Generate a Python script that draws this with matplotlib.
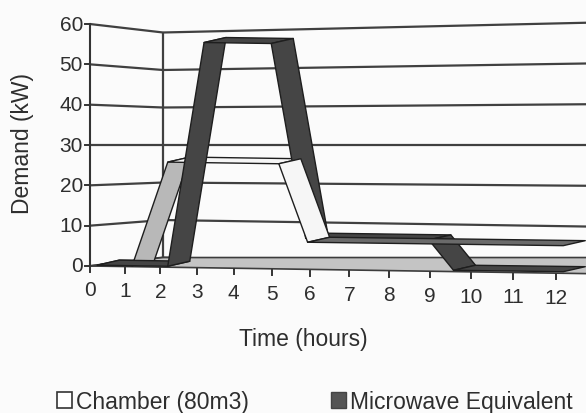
import numpy as np
import matplotlib
matplotlib.use("Agg")
import matplotlib.pyplot as plt
from matplotlib.patches import Polygon, Patch

plt.rcParams['font.family'] = ['Liberation Sans', 'DejaVu Sans']

# data
hours = list(range(13))
kw_ticks = [0, 10, 20, 30, 40, 50, 60]
chamber_t = [0, 1, 2, 5, 5.75, 12]
chamber_kw = [0, 0, 26, 26, 6.5, 6.5]
micro_t = [0, 2, 3, 4.8, 5.7, 8.8, 9.4, 12]
micro_kw = [0, 0, 56, 56, 7.5, 7.5, 0, 0]
series_names = ['Chamber (80m3)', 'Microwave Equivalent']

# layout of the fake 3d box (front plane in hours / kW)
W, H = 586, 414
PXH, PXK = 38.83, 4.033      # px per hour, px per kW on the front plane
OX, OY = 90, 267             # origin of front plane in px
WARP = 0.00928               # perspective stretch of the hour axis
DEPTH = 73 / PXH             # front -> back shift
SHRINK = 0.07                # back wall is a bit smaller
FAN = 0.0075                 # back wall grows to the right
TILT = 0.15                  # front edge drops to the right
RIB_D = 0.1                  # depth of the ribbons
RIB_X, RIB_Y = 22 / PXH, 5 / PXK
TXT = '#2e2e2e'


def proj(h, v, d, fan=False):
    h = np.asarray(h, float)
    v = np.asarray(v, float)
    d = np.asarray(d, float)
    x = h + WARP * h * (h - 12) + d * DEPTH
    sc = 1 - SHRINK * d + (FAN * h * d if fan else 0)
    y = 30 + (v - 30) * sc - TILT * h * (1 - d)
    return x, y


fig = plt.figure(figsize=(W / 100, H / 100), dpi=100, facecolor='#fbfbfb')
ax = fig.add_axes([0, 0, 1, 1])
ax.set_xlim(-OX / PXH, (W - OX) / PXH)
ax.set_ylim((OY - H) / PXK, OY / PXK)
ax.axis('off')

grid = dict(color='#404040', lw=1.6, solid_capstyle='butt', zorder=1)

# walls
for v in kw_ticks:
    x, y = proj([0, 0], [v, v], [0, 1])
    ax.plot(x, y, **grid)
    x, y = proj([0, 13.5], [v, v], 1, fan=True)
    ax.plot(x, y, **grid)
x, y = proj([0, 0], [0, 60], 1)
ax.plot(x, y, **grid)

# floor
fx, fy = proj([0, 13.5], [0, 0], 0)
bx, by = proj([13.5, 0], [0, 0], 1)
ax.add_patch(Polygon(np.column_stack([np.r_[fx, bx], np.r_[fy, by]]),
                     fc='#c4c4c4', ec='#3c3c3c', lw=1.2, zorder=2))

# value axis
x, y = proj([0, 0], [0, 60], 0)
ax.plot(x, y, color='#333333', lw=1.5, zorder=3)
for v in kw_ticks:
    x0, y0 = proj(0, v, 0)
    ax.plot([x0 - 5 / PXH, x0], [y0, y0], color='#333333', lw=1.4)
    ax.text(x0 - 7 / PXH, y0, str(v), ha='right', va='center',
            fontsize=15, color=TXT)

# hour axis
for h in hours:
    x0, y0 = proj(h, 0, 0)
    ax.plot([x0, x0], [y0 - 1 / PXK, y0 - 6 / PXK], color='#333333', lw=1.4)
    ax.text(x0, y0 - 24 / PXK, str(h), ha='center', va='center',
            fontsize=15, color=TXT)


def ribbon(t, kw, faces, z):
    fx, fy = proj(t, kw, RIB_D)
    for i in range(len(t) - 1):
        pts = [(fx[i], fy[i]), (fx[i + 1], fy[i + 1]),
               (fx[i + 1] + RIB_X, fy[i + 1] + RIB_Y),
               (fx[i] + RIB_X, fy[i] + RIB_Y)]
        ax.add_patch(Polygon(pts, fc=faces[i], ec='#1e1e1e', lw=1.0,
                             joinstyle='round', zorder=z[i]))


ribbon(chamber_t, chamber_kw,
       ['#5a5a5a', '#b8b8b8', '#f6f6f6', '#f6f6f6', '#6a6a6a'],
       [3, 3, 3, 5, 5])
ribbon(micro_t, micro_kw, ['#454545'] * 7, [4] * 7)

fig.text(22 / W, 1 - 144 / H, 'Demand (kW)', rotation=90, ha='center',
         va='center', fontsize=16.5, color=TXT)
fig.text(303 / W, 1 - 340 / H, 'Time (hours)', ha='center', va='center',
         fontsize=16.5, color=TXT)

handles = [Patch(fc='white', ec='#333333', lw=1.2),
           Patch(fc='#555555', ec='#444444', lw=1)]
fig.legend(handles, series_names, loc='lower left', bbox_to_anchor=(57 / W, 0),
           ncol=2, frameon=False, fontsize=16.5, handlelength=0.65,
           handleheight=0.65, handletextpad=0.17, columnspacing=3.6,
           borderpad=0, borderaxespad=0, labelcolor=TXT)

fig.savefig('out.png', dpi=100, facecolor=fig.get_facecolor())
